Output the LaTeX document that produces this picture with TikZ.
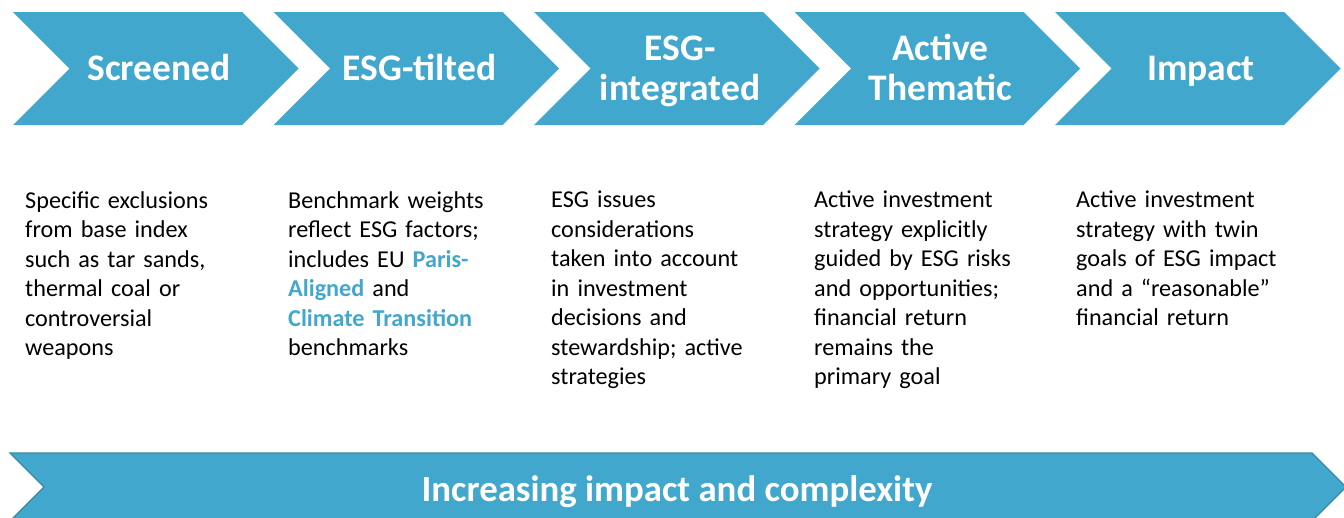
\documentclass[tikz,border=0pt]{standalone}
\usepackage{fontspec}
\setmainfont{Carlito}

\definecolor{esgblue}{HTML}{41A7CD}
\definecolor{esgedge}{HTML}{3789A8}

\newcommand{\hilite}[1]{\textbf{\textcolor{esgblue}{#1}}}

\tikzset{
  chevron/.style={fill=esgblue},
  stagelabel/.style={text=white, align=center, inner sep=0pt,
    font=\bfseries\fontsize{37.5}{40}\selectfont},
  stagetext/.style={anchor=north west, align=left, inner sep=0pt,
    text width=250pt, font=\fontsize{24.2}{29.5}\selectfont},
  trendarrow/.style={fill=esgblue, draw=esgedge, line width=1.2pt},
  trendlabel/.style={text=white, font=\bfseries\fontsize{36.8}{40}\selectfont}
}

\begin{document}
\begin{tikzpicture}[x=1pt, y=-1pt]
\useasboundingbox (0,0) rectangle (1344,517);

% five stages
\foreach \lbl [count=\i from 0] in {Screened, ESG-tilted, {ESG-\\integrated}, {Active\\Thematic}, Impact} {
  \pgfmathsetmacro{\L}{13+260.5*\i}
  \fill[chevron] (\L,12) -- ++(229,0) -- ++(56.5,56.5) -- ++(-56.5,56.5)
    -- ++(-229,0) -- ++(56.5,-56.5) -- cycle;
  \node[stagelabel] (stage\i) at (\L+146,72) {\strut\lbl\strut};
}

% descriptions
\node[stagetext] (desc0) at (25,191) {Specific exclusions\\from base index\\such as tar sands,\\thermal coal or\\controversial\\weapons};
\node[stagetext] (desc1) at (288,191) {Benchmark weights\\reflect ESG factors;\\includes EU \hilite{Paris-}\\\hilite{Aligned} and\\\hilite{Climate Transition}\\benchmarks};
\node[stagetext] (desc2) at (551,191) {ESG issues\\considerations\\taken into account\\in investment\\decisions and\\stewardship; active\\strategies};
\node[stagetext] (desc3) at (814,191) {Active investment\\strategy explicitly\\guided by ESG risks\\and opportunities;\\financial return\\remains the\\primary goal};
\node[stagetext] (desc4) at (1076,191) {Active investment\\strategy with twin\\goals of ESG impact\\and a “reasonable”\\financial return};

% bottom arrow
\filldraw[trendarrow] (10,453) -- (1312,453) -- (1346,487) -- (1312,521)
  -- (10,521) -- (44,487) -- cycle;
\node[trendlabel] (trend) at (677,492) {Increasing impact and complexity};
\end{tikzpicture}
\end{document}
